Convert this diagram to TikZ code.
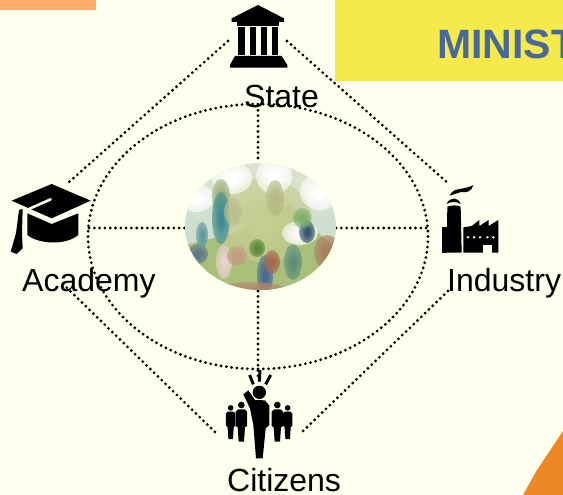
\documentclass[tikz,border=0pt]{standalone}
\usepackage{fontspec}
\setmainfont{Liberation Sans}
\usetikzlibrary{fadings}
\definecolor{paper}{HTML}{FFFFEE}
\definecolor{minblue}{HTML}{46689A}
\definecolor{banner}{HTML}{F5E94B}
\definecolor{peach}{HTML}{FFAB6B}
\definecolor{corner}{HTML}{EE8827}
\newcommand\hexc[1]{\definecolor{#1}{HTML}{#1}}
\hexc{DDE3CC}\hexc{C9DDD0}\hexc{A9C07A}\hexc{C6CD92}\hexc{9AAE78}\hexc{3E8C98}\hexc{B5B983}\hexc{B9C08F}
\hexc{34566A}\hexc{7DAE6B}\hexc{5C7A8C}\hexc{5F9AA0}\hexc{E9D2CE}\hexc{C49C80}\hexc{5C8A3A}\hexc{4A6A95}
\hexc{A86A50}\hexc{5F8F7A}\hexc{A87F5C}\hexc{B8866A}
\pgfdeclareradialshading{blobshade}{\pgfpoint{0bp}{0bp}}{color(0bp)=(white); color(6bp)=(white); color(50bp)=(black)}
\pgfdeclarefading{blobfade}{\pgfuseshading{blobshade}}
\newcommand\crowdfig[3]{%
  \begin{scope}[shift={(#1,#2)},scale=#3]
    \fill[icon] (0,-45) circle (10);
    \fill[icon] (-10,-32) -- (10,-32) -- (17,-25) -- (17,18) -- (11,22) -- (8,65) -- (-8,65) -- (-11,22) -- (-17,18) -- (-17,-25) -- cycle;
  \end{scope}}
\tikzset{
  dotline/.style={line width=3.1pt,line cap=round,dash pattern=on 0pt off 5.3pt,black},
  lbl/.style={anchor=base west,inner sep=0pt,font=\fontsize{32}{36}\selectfont,text=black},
  icon/.style={fill=black,draw=none},
  hole/.style={fill=paper,draw=none},
  blob/.style={path fading=blobfade},
  zoomspace/.style={shift={#1},scale=1/3}
}
\begin{document}
\begin{tikzpicture}[x=1pt,y=-1pt]
\useasboundingbox (0,0) rectangle (563,495);
\clip (0,0) rectangle (563,495);
\fill[paper] (0,0) rectangle (563,495);
% decorations
\fill[peach] (0,0) rectangle (96,10);
\fill[banner] (335,0) rectangle (563,81);
\node[anchor=base west,inner sep=0pt,font=\bfseries\fontsize{41}{44}\selectfont,text=minblue] (ministry) at (437,59) {MINIST};
\fill[corner] (523,495) -- (537,470) -- (549,452) -- (563,431) -- (563,495) -- cycle;
% anchor points
\coordinate (stateL) at (228,41);
\coordinate (stateR) at (287,41);
\coordinate (acadU) at (68,183);
\coordinate (acadD) at (63,284);
\coordinate (indU) at (449,184);
\coordinate (indD) at (448,291);
\coordinate (citL) at (215,432);
\coordinate (citR) at (301,433);
\coordinate (hubN) at (258,163);
\coordinate (hubS) at (258,291);
\coordinate (hubW) at (185,228);
\coordinate (hubE) at (336,228);
\coordinate (rimN) at (258,105);
\coordinate (rimS) at (258,380);
\coordinate (rimW) at (89,228);
\coordinate (rimE) at (428,228);
% connectors
\draw[dotline] (stateL) -- (acadU);
\draw[dotline] (stateR) -- (indU);
\draw[dotline] (acadD) -- (citL);
\draw[dotline] (indD) -- (citR);
\draw[dotline] (258,236.5) ellipse (170 and 132.5);
\draw[dotline] (rimN) -- (hubN);
\draw[dotline] (hubS) -- (rimS);
\draw[dotline] (rimW) -- (hubW);
\draw[dotline] (hubE) -- (rimE);
% central picture
\begin{scope}
\clip (260.5,226.5) ellipse (75.5 and 63.5);
\shade[top color=DDE3CC,bottom color=C9DDD0] (185,163) rectangle (336,250);
\fill[A9C07A] (185,245) -- (240,232) -- (262,212) -- (290,205) -- (336,250) -- (336,290) -- (185,290) -- cycle;
\fill[blob,C6CD92] (262,220) ellipse (50 and 42);
\fill[blob,white] (232,178) ellipse (20 and 16);
\fill[blob,white] (274,176) ellipse (18 and 18);
\fill[blob,white] (320,192) ellipse (20 and 18);
\fill[blob,white] (196,198) ellipse (18 and 14);
\fill[blob,9AAE78] (221,197) ellipse (9 and 18);
\fill[blob,3E8C98] (221,218) ellipse (9 and 26);
\fill[blob,B5B983] (275,198) ellipse (9 and 18);
\fill[blob,B9C08F] (233,212) ellipse (9 and 14);
\fill[blob,white] (300,233) ellipse (18 and 12);
\fill[blob,34566A] (307,232) ellipse (8 and 11);
\fill[blob,7DAE6B] (302,218) ellipse (9 and 10);
\fill[blob,5C7A8C] (198,254) ellipse (10 and 10);
\fill[blob,5F9AA0] (202,235) ellipse (6 and 13);
\fill[blob,E9D2CE] (224,262) ellipse (8 and 17);
\fill[blob,C49C80] (237,256) ellipse (10 and 10);
\fill[blob,5C8A3A] (257,248) ellipse (8 and 9);
\fill[blob,4A6A95] (265,275) ellipse (8 and 20);
\fill[blob,A86A50] (272,262) ellipse (8 and 12);
\fill[blob,5F8F7A] (293,262) ellipse (9 and 18);
\fill[blob,A87F5C] (327,252) ellipse (13 and 17);
\fill[blob,B8866A] (250,292) ellipse (40 and 10);
\end{scope}
% State icon
\begin{scope}[zoomspace={(180,0)}]
\fill[icon] (234,15) -- (312,55) -- (312,66) -- (155,66) -- (155,55) -- cycle;
\fill[icon] (170,66) rectangle (298,78);
\foreach \a/\b in {175/195,210/228,242/262,275/295} \fill[icon] (\a,80) rectangle (\b,166);
\fill[icon] (165,168) -- (305,168) -- (322,195) -- (322,203) -- (150,203) -- (150,195) -- cycle;
\end{scope}
% Academy icon
\begin{scope}[zoomspace={(0,170)}]
\fill[icon] (82,130) -- (155,162) -- (235,130) -- (235,195) .. controls (200,225) and (120,225) .. (82,195) -- cycle;
\fill[icon] (35,92) -- (155,42) -- (272,92) -- (155,145) -- cycle;
\draw[paper,line width=2.6pt,line cap=round] (152,88) -- (80,120);
\fill[icon] (57,120) -- (68,117) -- (66,190) -- (68,235) -- (50,252) -- (32,245) -- (48,190) -- cycle;
\end{scope}
% Industry icon
\begin{scope}[zoomspace={(430,170)}]
\fill[icon] (60,75) .. controls (72,50) and (100,62) .. (130,45) .. controls (125,65) and (110,68) .. (95,66) .. controls (85,68) and (75,72) .. (60,77) -- cycle;
\fill[icon] (50,102) .. controls (58,80) and (85,80) .. (92,102) .. controls (80,94) and (62,94) .. (50,102) -- cycle;
\fill[icon] (52,110) .. controls (65,105) and (80,105) .. (92,110) -- (95,248) -- (50,248) -- cycle;
\fill[icon] (36,172) rectangle (50,248);
\fill[icon] (100,172) -- (125,168) -- (148,150) -- (148,168) -- (176,150) -- (176,168) -- (205,150) -- (205,248) -- (100,248) -- cycle;
\foreach \x in {114,132,150,172,190} \fill[hole] (\x,202) circle (4);
\fill[hole] (160,225) rectangle (185,248);
\end{scope}
% Citizens icon
\begin{scope}[zoomspace={(200,365)}]
\fill[icon] (178,82) circle (20);
\fill[icon] (130,88) -- (145,76) -- (165,105) -- (195,106) -- (208,122) -- (208,180) -- (197,190) -- (188,280) -- (168,280) -- (160,180) -- (150,130) -- cycle;
\draw[line width=3pt,black] (149,30) -- (160,58);
\draw[line width=3pt,black] (180,15) -- (178,50);
\draw[line width=3pt,black] (212,30) -- (197,58);
\crowdfig{92}{167}{.85}
\crowdfig{124}{165}{1}
\crowdfig{232}{165}{1}
\crowdfig{263}{167}{.85}
\end{scope}
% labels
\node[lbl] (state) at (244,107) {State};
\node[lbl] (academy) at (22,291) {Academy};
\node[lbl] (industry) at (447,291) {Industry};
\node[lbl] (citizens) at (227,491) {Citizens};
\end{tikzpicture}
\end{document}
